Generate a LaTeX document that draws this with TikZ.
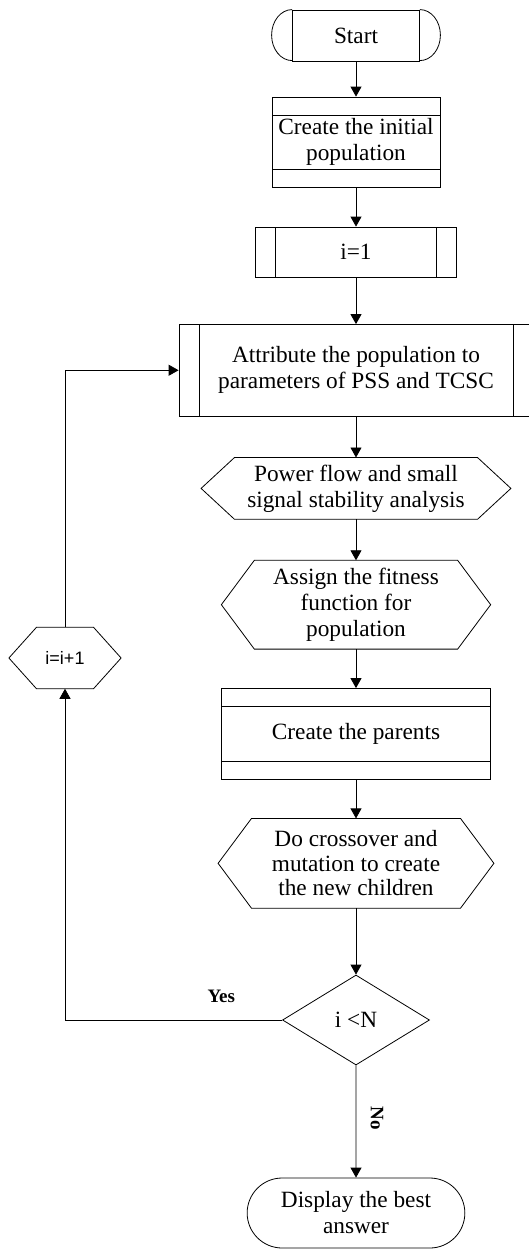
\documentclass[tikz,border=0pt]{standalone}
\usepackage{fontspec}
\setmainfont{Liberation Serif}
\newfontfamily\sansfnt{Liberation Sans}
\usetikzlibrary{positioning,arrows.meta,shapes.geometric,shapes.misc}

% hexagon outline round a plain rectangle node: #1 node, #2 depth of the points
\newcommand\hexframe[2]{%
  \draw[line width=0.8pt] (#1.west) -- ([xshift=#2]#1.north west) -- ([xshift=-#2]#1.north east)
    -- (#1.east) -- ([xshift=-#2]#1.south east) -- ([xshift=#2]#1.south west) -- cycle;}

\begin{document}
\begin{tikzpicture}[x=1pt,y=-1pt,
    box/.style={draw,line width=0.8pt,inner sep=0pt,align=center,font={\fontsize{23.3}{26}\selectfont}},
    store/.style={box,path picture={
      \draw ([yshift=-18pt]path picture bounding box.north west) -- ([yshift=-18pt]path picture bounding box.north east)
            ([yshift=18pt]path picture bounding box.south west) -- ([yshift=18pt]path picture bounding box.south east);}},
    predef/.style={box,path picture={
      \draw ([xshift=20pt]path picture bounding box.north west) -- ([xshift=20pt]path picture bounding box.south west)
            ([xshift=-20pt]path picture bounding box.north east) -- ([xshift=-20pt]path picture bounding box.south east);}},
    hexa/.style={box,draw=none},
    decide/.style={box,diamond,aspect=1.63,minimum width=147pt,minimum height=90pt},
    arrow/.style={-{Triangle[width=11pt,length=10pt]},line width=0.8pt},
    lbl/.style={font={\fontsize{19}{22}\selectfont\bfseries},inner sep=0pt},
]
\useasboundingbox (0,0) rectangle (529,1250);

\node[box,minimum width=127pt,minimum height=51pt] (start) at (356,35.5) {Start};
\draw[line width=0.8pt] (start.north east) arc[start angle=90,end angle=-90,x radius=20.5pt,y radius=25.5pt];
\draw[line width=0.8pt] (start.north west) arc[start angle=90,end angle=270,x radius=20.5pt,y radius=25.5pt];

\node[store,minimum width=168pt,minimum height=90pt] (init) at (356,142) {Create the initial\\population};
\node[predef,minimum width=201pt,minimum height=50pt] (ione) at (356,252) {i=1};
\node[predef,minimum width=354pt,minimum height=91.5pt] (attr) at (356,370.25) {Attribute the population to\\parameters of PSS and TCSC};
\node[hexa,minimum width=309pt,minimum height=61pt] (flow) at (356,488.4) {Power flow and small\\signal stability analysis};
\node[hexa,minimum width=268.5pt,minimum height=88pt] (fit) at (356,604.7) {Assign the fitness\\function for\\population};
\node[store,minimum width=268.5pt,minimum height=91pt] (parents) at (356,734) {Create the parents};
\node[hexa,minimum width=275pt,minimum height=89pt,font={\fontsize{23.3}{24.5}\selectfont}] (cross) at (356,863.3) {Do crossover and\\mutation to create\\the new children};
\node[decide] (check) at (356,1020) {i <N};
\node[box,rounded rectangle,minimum width=217.7pt,minimum height=70pt] (disp) at (356,1213) {Display the best\\answer};
\node[hexa,minimum width=111.4pt,minimum height=60.7pt,font={\sansfnt\fontsize{18}{20}\selectfont}] (inc) at (65,658) {i=i+1};

\hexframe{flow}{33.4pt}
\hexframe{fit}{33pt}
\hexframe{cross}{33.4pt}
\hexframe{inc}{27.6pt}

% main chain
\draw[arrow] (start) -- (init);
\draw[arrow] (init) -- (ione);
\draw[arrow] (ione) -- (attr);
\draw[arrow] (attr) -- (flow);
\draw[arrow] (flow) -- (fit);
\draw[arrow] (fit) -- (parents);
\draw[arrow] (parents) -- (cross);
\draw[arrow] (cross) -- (check);
\draw[arrow] (check) -- node[lbl,xshift=21pt,rotate=-90,pos=0.47] {No} (disp);
% loop back on the left
\draw[arrow] (check.west) -| node[lbl,pos=0.14,above=17pt] {Yes} (inc.south);
\draw[arrow] (inc.north) |- (attr.west);
\end{tikzpicture}
\end{document}
